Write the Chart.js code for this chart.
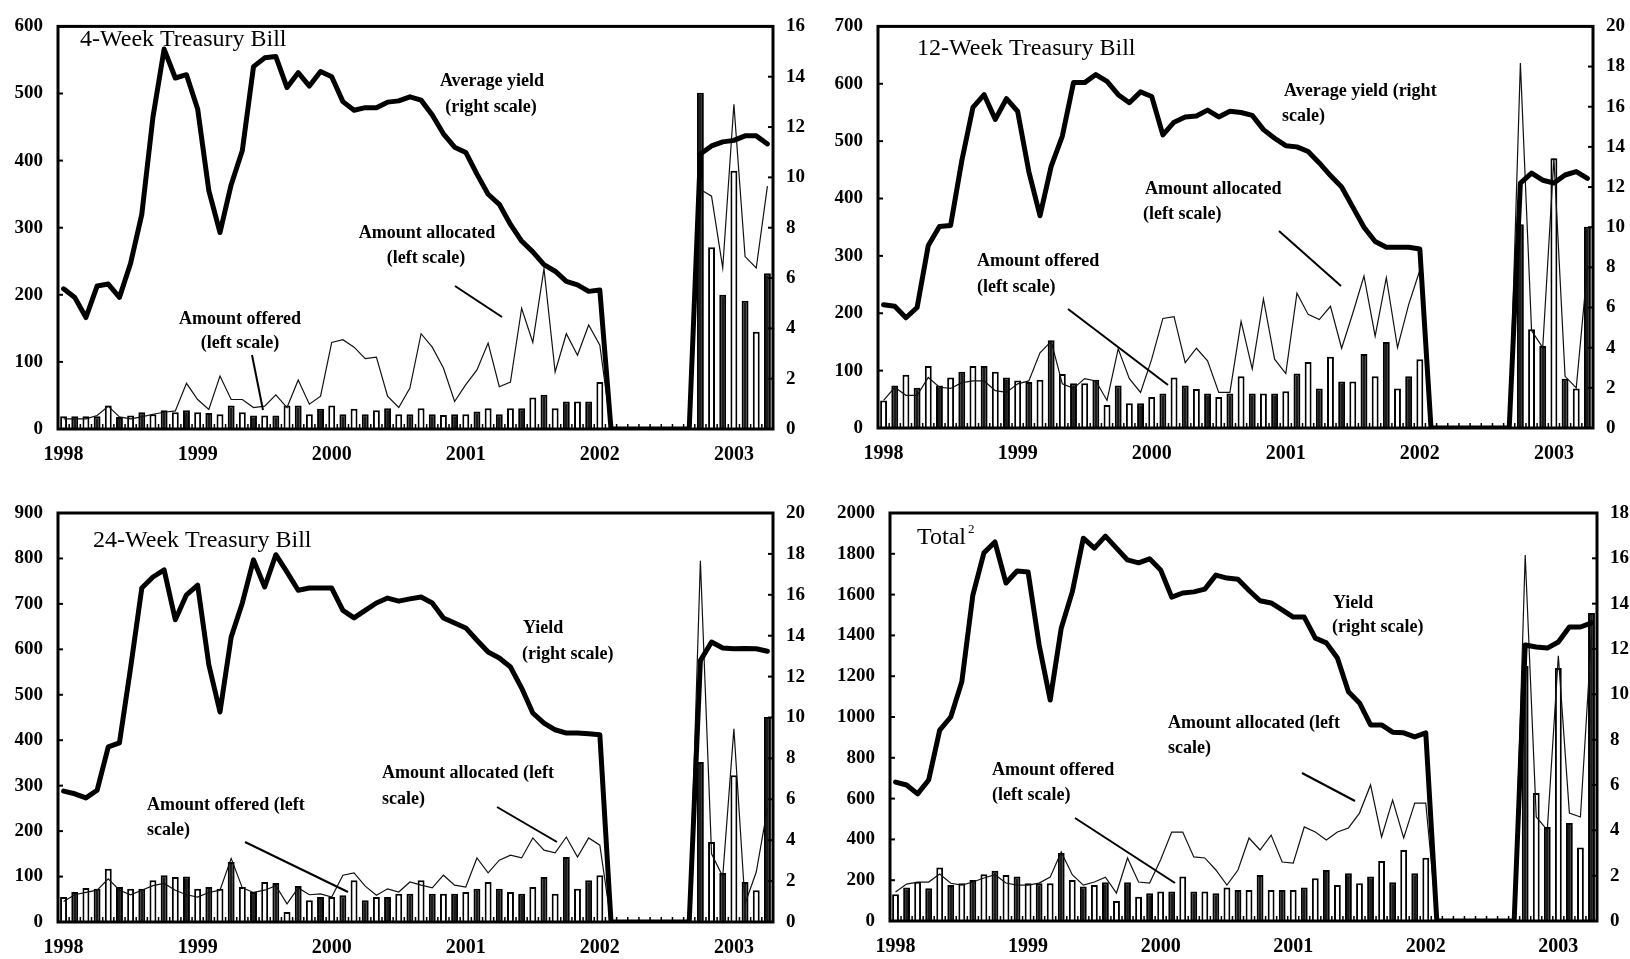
<!DOCTYPE html>
<html>
<head>
<meta charset="utf-8">
<script src="https://cdn.jsdelivr.net/npm/chart.js@4/dist/chart.umd.min.js"></script>
<style>
  body { margin: 0; background: #fff; }
  #page { position: relative; width: 1630px; height: 959px; }
  .panel { position: absolute; width: 815px; }
</style>
</head>
<body>
<div id="page">
  <div class="panel" style="left:0;top:0;height:479px"><canvas id="c4"></canvas></div>
  <div class="panel" style="left:815px;top:0;height:479px"><canvas id="c12"></canvas></div>
  <div class="panel" style="left:0;top:479px;height:480px"><canvas id="c24"></canvas></div>
  <div class="panel" style="left:815px;top:479px;height:480px"><canvas id="cTot"></canvas></div>
</div>
<script>
// monthly categories, Jan 1998 - Apr 2003
const months = [];
for (let y = 1998; months.length < 64; y++) {
  for (let m = 1; m <= 12 && months.length < 64; m++) months.push(y + '-' + String(m).padStart(2, '0'));
}
const gap = [0, 0, 0, 0, 0, 0, 0, 0]; // Feb-Sep 2002, no auctions

// --- 4-week bill ---
const yield4 = [5.57, 5.23, 4.43, 5.68, 5.76, 5.23, 6.59, 8.53, 12.4, 15.1, 13.95, 14.08,
  12.72, 9.47, 7.81, 9.71, 11.07, 14.4, 14.75, 14.8, 13.57, 14.16, 13.63, 14.21,
  14.0, 13.01, 12.67, 12.77, 12.77, 12.99, 13.04, 13.2, 13.07, 12.48, 11.73, 11.2,
  10.99, 10.13, 9.33, 8.93, 8.13, 7.47, 7.04, 6.53, 6.27, 5.87, 5.73, 5.47,
  5.52, ...gap, 10.93, 11.25, 11.41, 11.47, 11.65, 11.65, 11.33];
const allocated4 = [15, 15, 15, 20, 34, 18, 15, 18, 22, 25, 27, 68,
  44, 29, 79, 44, 44, 32, 34, 51, 32, 73, 37, 49,
  129, 133, 122, 105, 107, 49, 32, 61, 142, 122, 91, 41,
  66, 88, 128, 63, 70, 180, 129, 239, 85, 142, 110, 155,
  125, ...gap, 357, 347, 240, 484, 257, 240, 362];
const offered4 = [19, 19, 19, 19, 35, 18, 20, 25, 22, 28, 25, 28,
  25, 24, 22, 35, 25, 20, 20, 20, 35, 35, 22, 30,
  35, 22, 30, 22, 28, 31, 22, 22, 31, 22, 21, 22,
  22, 26, 31, 22, 31, 31, 47, 51, 31, 41, 41, 41,
  70, ...gap, 501, 271, 200, 385, 191, 145, 232];

// --- 12-week bill ---
const yield12 = [6.14, 6.06, 5.49, 6.0, 9.09, 10.03, 10.09, 13.31, 15.97, 16.6, 15.37, 16.4,
  15.77, 12.77, 10.57, 13.03, 14.54, 17.2, 17.2, 17.6, 17.26, 16.6, 16.2, 16.74,
  16.51, 14.6, 15.23, 15.49, 15.54, 15.83, 15.49, 15.77, 15.71, 15.57, 14.86, 14.43,
  14.06, 14.0, 13.77, 13.2, 12.57, 12.0, 11.0, 10.0, 9.29, 9.0, 9.0, 9.0,
  8.91, ...gap, 12.2, 12.69, 12.34, 12.2, 12.6, 12.77, 12.43];
const allocated12 = [48, 71, 57, 57, 88, 71, 69, 79, 82, 82, 65, 62,
  77, 82, 131, 151, 77, 69, 86, 82, 48, 138, 86, 62,
  120, 191, 194, 114, 139, 117, 62, 62, 186, 103, 225, 120,
  95, 235, 198, 189, 212, 139, 200, 265, 160, 262, 140, 215,
  275, ...gap, 636, 170, 140, 470, 90, 70, 280];
const offered12 = [48, 74, 93, 70, 108, 74, 88, 98, 108, 108, 98, 88,
  83, 80, 84, 153, 94, 78, 78, 84, 40, 74, 43, 43,
  54, 60, 88, 74, 68, 60, 54, 60, 90, 60, 60, 60,
  64, 95, 115, 69, 124, 81, 81, 129, 90, 150, 69, 90,
  120, ...gap, 355, 172, 143, 470, 86, 69, 351];

// --- 24-week bill ---
const yield24 = [6.4, 6.27, 6.07, 6.44, 8.56, 8.76, 12.44, 16.33, 16.87, 17.22, 14.78, 16.0,
  16.47, 12.58, 10.27, 13.93, 15.6, 17.71, 16.38, 17.96, 17.11, 16.22, 16.33, 16.33,
  16.33, 15.24, 14.87, 15.24, 15.6, 15.84, 15.69, 15.8, 15.89, 15.6, 14.87, 14.62,
  14.38, 13.78, 13.2, 12.91, 12.47, 11.44, 10.22, 9.73, 9.4, 9.24, 9.24, 9.2,
  9.16, ...gap, 12.78, 13.69, 13.4, 13.36, 13.38, 13.36, 13.24];
const allocated24 = [45, 60, 65, 70, 95, 70, 60, 70, 80, 85, 70, 60,
  55, 65, 70, 140, 75, 65, 70, 80, 40, 75, 60, 62,
  55, 103, 108, 79, 59, 73, 66, 88, 81, 75, 103, 81,
  77, 141, 108, 136, 147, 141, 185, 158, 152, 187, 143, 185,
  169, ...gap, 795, 150, 100, 425, 40, 110, 250];
const offered24 = [55, 66, 75, 73, 117, 77, 73, 73, 92, 103, 99, 100,
  73, 77, 73, 132, 77, 66, 88, 86, 22, 79, 48, 55,
  55, 59, 92, 48, 55, 55, 62, 62, 92, 62, 62, 62,
  66, 73, 88, 73, 66, 62, 77, 99, 62, 143, 73, 92,
  103, ...gap, 352, 176, 108, 323, 88, 70, 451];

// --- total ---
const yieldTot = [6.13, 6.0, 5.61, 6.22, 8.42, 9.0, 10.55, 14.38, 16.24, 16.72, 14.91, 15.44,
  15.4, 12.18, 9.75, 12.92, 14.52, 16.89, 16.45, 16.98, 16.45, 15.93, 15.8, 15.98,
  15.49, 14.29, 14.47, 14.52, 14.64, 15.26, 15.13, 15.08, 14.58, 14.13, 14.03, 13.73,
  13.41, 13.41, 12.48, 12.27, 11.6, 10.11, 9.62, 8.65, 8.65, 8.33, 8.3, 8.12,
  8.3, ...gap, 12.18, 12.09, 12.04, 12.31, 12.97, 12.97, 13.15];
const allocatedTot = [142, 181, 191, 191, 230, 185, 176, 191, 211, 227, 186, 176,
  176, 186, 215, 338, 227, 176, 191, 215, 137, 309, 191, 186,
  300, 436, 436, 314, 309, 250, 176, 250, 407, 348, 421, 289,
  284, 461, 436, 397, 436, 456, 529, 667, 412, 593, 407, 578,
  578, ...gap, 1794, 510, 446, 1300, 529, 510, 1400];
const offeredTot = [131, 164, 193, 161, 262, 177, 185, 201, 229, 246, 226, 218,
  185, 185, 185, 333, 201, 169, 177, 190, 98, 190, 119, 136,
  144, 144, 218, 144, 144, 136, 164, 152, 152, 226, 152, 152,
  152, 164, 209, 250, 177, 234, 185, 218, 294, 190, 348, 234,
  310, ...gap, 1250, 627, 461, 1240, 480, 360, 1510];

const SERIF = '"Liberation Serif", "Times New Roman", serif';

// frame, inward tick marks and text notes
const notesPlugin = {
  id: 'notes',
  beforeDatasetsDraw(chart) {
    const { ctx, chartArea: a, scales } = chart;
    ctx.save();
    ctx.strokeStyle = '#000';
    ctx.lineWidth = 1.5;
    const x = scales.x;
    for (let i = 1; i < months.length; i++) {
      const bx = (x.getPixelForValue(i - 1) + x.getPixelForValue(i)) / 2;
      ctx.beginPath(); ctx.moveTo(bx, a.bottom); ctx.lineTo(bx, a.bottom - 5); ctx.stroke();
    }
    ctx.restore();
  },
  afterDatasetsDraw(chart, args, opts) {
    const { ctx, chartArea: a, scales } = chart;
    ctx.save();
    ctx.strokeStyle = '#000';
    ctx.lineWidth = 2;
    scales.y.ticks.forEach(t => {
      const py = scales.y.getPixelForValue(t.value);
      ctx.beginPath(); ctx.moveTo(a.left, py); ctx.lineTo(a.left + 5, py); ctx.stroke();
    });
    scales.y1.ticks.forEach(t => {
      const py = scales.y1.getPixelForValue(t.value);
      ctx.beginPath(); ctx.moveTo(a.right, py); ctx.lineTo(a.right - 5, py); ctx.stroke();
    });
    ctx.lineWidth = 3;
    ctx.strokeRect(a.left, a.top, a.right - a.left, a.bottom - a.top);

    ctx.lineWidth = 2;
    (opts.lines || []).forEach(l => {
      ctx.beginPath(); ctx.moveTo(l[0], l[1]); ctx.lineTo(l[2], l[3]); ctx.stroke();
    });
    ctx.fillStyle = '#000';
    ctx.textBaseline = 'middle';
    (opts.texts || []).forEach(t => {
      ctx.font = (t.weight || 'bold') + ' ' + (t.size || 18) + 'px ' + SERIF;
      ctx.textAlign = t.align || 'left';
      ctx.fillText(t.text, t.x, t.y);
    });
    ctx.restore();
  }
};

function makePanel(id, box, yieldData, allocData, offerData, leftMax, leftStep, rightMax, notes) {
  const H = document.getElementById(id).parentNode.clientHeight;
  new Chart(document.getElementById(id), {
    type: 'bar',
    data: {
      labels: months,
      datasets: [
        {
          type: 'line', label: 'Yield', data: yieldData, yAxisID: 'y1', order: 0,
          borderColor: '#000', borderWidth: 5, pointRadius: 0, tension: 0,
          borderJoinStyle: 'round', borderCapStyle: 'round'
        },
        {
          type: 'line', label: 'Amount allocated', data: allocData, yAxisID: 'y', order: 1,
          borderColor: '#111', borderWidth: 1.2, pointRadius: 0, tension: 0
        },
        {
          type: 'bar', label: 'Amount offered', data: offerData, yAxisID: 'y', order: 2,
          backgroundColor: c => (c.dataIndex % 2 ? '#1c1c1c' : '#ffffff'),
          borderColor: '#000', borderWidth: 2,
          barPercentage: 0.62, categoryPercentage: 1
        }
      ]
    },
    options: {
      responsive: true,
      maintainAspectRatio: false,
      animation: false,
      devicePixelRatio: 1,
      layout: { padding: { top: box.top, left: 0, right: 0, bottom: 0 } },
      plugins: { legend: { display: false }, tooltip: { enabled: false }, notes: notes },
      scales: {
        x: {
          offset: true,
          grid: { display: false, drawTicks: false },
          border: { display: false },
          ticks: {
            autoSkip: false, maxRotation: 0, padding: 14, color: '#000',
            font: { family: SERIF, size: 20, weight: 'bold' },
            callback: function (v) {
              const l = this.getLabelForValue(v);
              return l.endsWith('-01') ? l.slice(0, 4) : '';
            }
          },
          afterFit: s => { s.height = H - box.bottom; }
        },
        y: {
          position: 'left', min: 0, max: leftMax,
          grid: { display: false, drawTicks: false },
          border: { display: false },
          ticks: {
            stepSize: leftStep, padding: 15, color: '#000',
            font: { family: SERIF, size: 19, weight: 'bold' },
            callback: v => String(v)
          },
          afterFit: s => { s.width = box.left; }
        },
        y1: {
          position: 'right', min: 0, max: rightMax,
          grid: { display: false, drawTicks: false },
          border: { display: false },
          ticks: {
            stepSize: 2, padding: 13, color: '#000',
            font: { family: SERIF, size: 19, weight: 'bold' },
            callback: v => String(v)
          },
          afterFit: s => { s.width = 815 - box.right; }
        }
      }
    },
    plugins: [notesPlugin]
  });
}

makePanel('c4', { left: 58, right: 773, top: 21, bottom: 429 }, yield4, allocated4, offered4, 600, 100, 16, {
  texts: [
    { text: '4-Week Treasury Bill', x: 80, y: 40, size: 24, weight: 'normal' },
    { text: 'Average yield', x: 492, y: 81, align: 'center' },
    { text: '(right scale)', x: 491, y: 107, align: 'center' },
    { text: 'Amount allocated', x: 427, y: 233, align: 'center' },
    { text: '(left scale)', x: 426, y: 258, align: 'center' },
    { text: 'Amount offered', x: 240, y: 319, align: 'center' },
    { text: '(left scale)', x: 240, y: 343, align: 'center' }
  ],
  lines: [[455, 286, 502, 317], [252, 355, 263, 410]]
});

makePanel('c12', { left: 63, right: 778, top: 21, bottom: 428 }, yield12, allocated12, offered12, 700, 100, 20, {
  texts: [
    { text: '12-Week Treasury Bill', x: 102, y: 49, size: 24, weight: 'normal' },
    { text: 'Average yield (right', x: 469, y: 91 },
    { text: 'scale)', x: 467, y: 116 },
    { text: 'Amount allocated', x: 330, y: 189 },
    { text: '(left scale)', x: 328, y: 214 },
    { text: 'Amount offered', x: 162, y: 261 },
    { text: '(left scale)', x: 162, y: 287 }
  ],
  lines: [[464, 231, 526, 286], [253, 309, 353, 385]]
});

makePanel('c24', { left: 58, right: 773, top: 34, bottom: 443 }, yield24, allocated24, offered24, 900, 100, 20, {
  texts: [
    { text: '24-Week Treasury Bill', x: 93, y: 62, size: 24, weight: 'normal' },
    { text: 'Yield', x: 523, y: 149 },
    { text: '(right scale)', x: 522, y: 175 },
    { text: 'Amount allocated (left', x: 382, y: 294 },
    { text: 'scale)', x: 382, y: 320 },
    { text: 'Amount offered (left', x: 147, y: 326 },
    { text: 'scale)', x: 147, y: 351 }
  ],
  lines: [[497, 328, 557, 363], [245, 363, 348, 413]]
});

makePanel('cTot', { left: 75, right: 782, top: 34, bottom: 442 }, yieldTot, allocatedTot, offeredTot, 2000, 200, 18, {
  texts: [
    { text: 'Total', x: 102, y: 59, size: 24, weight: 'normal' },
    { text: '2', x: 153, y: 51, size: 13, weight: 'normal' },
    { text: 'Yield', x: 518, y: 124 },
    { text: '(right scale)', x: 517, y: 148 },
    { text: 'Amount allocated (left', x: 353, y: 244 },
    { text: 'scale)', x: 353, y: 269 },
    { text: 'Amount offered', x: 177, y: 291 },
    { text: '(left scale)', x: 177, y: 316 }
  ],
  lines: [[487, 294, 540, 322], [260, 339, 360, 404]]
});
</script>
</body>
</html>
